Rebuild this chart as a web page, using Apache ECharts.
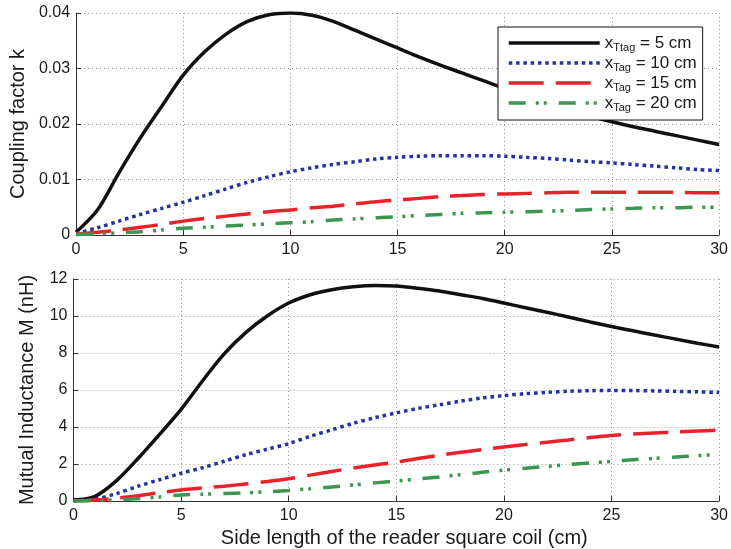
<!DOCTYPE html>
<html>
<head>
<meta charset="utf-8">
<script src="https://cdn.jsdelivr.net/npm/echarts@6/dist/echarts.min.js"></script>
<style>
  html, body { margin: 0; padding: 0; background: #fff; }
  #chart { width: 731px; height: 549px; }
</style>
</head>
<body>
<div id="chart"></div>
<script>
// side length of the reader square coil (cm)
const sideLength = [0, 1, 2, 3, 4, 5, 6, 7, 8, 9, 10, 11, 12, 13, 14, 15, 16, 17, 18, 19, 20, 21, 22, 23, 24, 25, 26, 27, 28, 29, 30];

const seriesNames = ['x5', 'x10', 'x15', 'x20'];
const legendLabels = {
    x5: { sub: 'Ttag', rest: ' = 5 cm' },
    x10: { sub: 'Tag', rest: ' = 10 cm' },
    x15: { sub: 'Tag', rest: ' = 15 cm' },
    x20: { sub: 'Tag', rest: ' = 20 cm' },
};

// coupling factor k
const kTag5 = [0.0005, 0.0045, 0.0112, 0.0175, 0.0232, 0.0288, 0.0330, 0.0362, 0.0385, 0.0397, 0.0400, 0.0396, 0.0385, 0.0369, 0.0353, 0.0337, 0.0321, 0.0306, 0.0292, 0.0278, 0.0264, 0.0250, 0.0237, 0.0225, 0.0214, 0.0204, 0.0195, 0.0187, 0.0179, 0.0171, 0.0163];
const kTag10 = [0.0003, 0.0013, 0.0025, 0.0037, 0.0048, 0.0059, 0.0071, 0.0083, 0.0095, 0.0105, 0.0114, 0.0121, 0.0127, 0.0132, 0.0137, 0.0140, 0.0142, 0.0143, 0.0143, 0.0143, 0.0142, 0.0140, 0.0138, 0.0135, 0.0132, 0.0130, 0.0127, 0.0124, 0.0121, 0.0118, 0.0116];
const kTag15 = [0.0002, 0.0005, 0.0009, 0.0014, 0.0019, 0.0025, 0.0030, 0.0034, 0.0038, 0.0042, 0.0045, 0.0049, 0.0052, 0.0056, 0.0060, 0.0063, 0.0066, 0.0069, 0.0071, 0.0073, 0.0074, 0.0075, 0.0076, 0.0077, 0.0077, 0.0077, 0.0077, 0.0077, 0.0077, 0.0076, 0.0076];
const kTag20 = [0.0001, 0.0002, 0.0004, 0.0006, 0.0009, 0.0012, 0.0014, 0.0016, 0.0018, 0.0020, 0.0022, 0.0024, 0.0027, 0.0029, 0.0031, 0.0033, 0.0035, 0.0037, 0.0039, 0.0040, 0.0041, 0.0042, 0.0043, 0.0044, 0.0046, 0.0047, 0.0048, 0.0049, 0.0049, 0.0050, 0.0050];

// mutual inductance M (nH)
const mTag5 = [0.05, 0.25, 1.1, 2.3, 3.6, 4.95, 6.5, 7.95, 9.1, 10.0, 10.7, 11.15, 11.42, 11.58, 11.65, 11.62, 11.5, 11.35, 11.15, 10.95, 10.7, 10.45, 10.2, 9.95, 9.68, 9.43, 9.2, 8.97, 8.75, 8.53, 8.32];
const mTag10 = [0, 0.1, 0.4, 0.8, 1.15, 1.5, 1.8, 2.15, 2.5, 2.8, 3.1, 3.5, 3.85, 4.2, 4.5, 4.76, 5.0, 5.2, 5.4, 5.57, 5.7, 5.8, 5.87, 5.93, 5.96, 5.98, 5.97, 5.95, 5.93, 5.9, 5.87];
const mTag15 = [0, 0.05, 0.15, 0.28, 0.45, 0.6, 0.7, 0.8, 0.92, 1.05, 1.2, 1.4, 1.6, 1.78, 1.95, 2.1, 2.3, 2.47, 2.63, 2.78, 2.92, 3.05, 3.18, 3.3, 3.43, 3.54, 3.62, 3.68, 3.73, 3.78, 3.83];
const mTag20 = [0, 0.02, 0.06, 0.13, 0.22, 0.33, 0.37, 0.4, 0.44, 0.5, 0.57, 0.66, 0.76, 0.87, 0.98, 1.08, 1.19, 1.3, 1.42, 1.55, 1.67, 1.77, 1.87, 1.97, 2.06, 2.14, 2.23, 2.31, 2.38, 2.45, 2.52];

const font = '"Liberation Sans", Arial, Helvetica, sans-serif';

const styles = {
    x5: { color: '#111111', width: 3.5, type: 'solid' },
    x10: { color: '#23349c', width: 3.5, type: [3.5, 3.8] },
    x15: { color: '#e8222b', width: 3.5, type: [35, 12] },
    x20: { color: '#3b9650', width: 3.5, type: [17, 10, 3, 5, 3, 12] },
};

const zip = (ys) => sideLength.map((x, i) => [x, ys[i]]);

const makeSeries = (name, values, axisIndex) => ({
    name,
    type: 'line',
    xAxisIndex: axisIndex,
    yAxisIndex: axisIndex,
    data: zip(values),
    symbol: 'none',
    smooth: 0.3,
    color: styles[name].color,
    lineStyle: { ...styles[name], cap: 'butt' },
});

const xAxisFor = (gridIndex, name) => ({
    type: 'value',
    gridIndex,
    min: 0,
    max: 30,
    interval: 5,
    name,
    nameLocation: 'middle',
    nameGap: 27,
    nameTextStyle: { color: '#1a1a1a', fontSize: 20, fontFamily: font, padding: [0, 0, 0, 16] },
    axisLine: { lineStyle: { color: '#333', width: 1 } },
    axisTick: { inside: true, length: 5, lineStyle: { color: '#333' } },
    axisLabel: { color: '#1a1a1a', fontSize: 16, fontFamily: font, margin: 7 },
    splitLine: { show: true, lineStyle: { color: '#999', type: [1, 3], width: 1 } },
});

const yAxisFor = (gridIndex, name, max, interval, formatter) => ({
    type: 'value',
    gridIndex,
    min: 0,
    max,
    interval,
    name,
    nameLocation: 'middle',
    nameGap: 36,
    nameTextStyle: { color: '#1a1a1a', fontSize: 20, fontFamily: font },
    axisLine: { show: true, lineStyle: { color: '#333', width: 1 } },
    axisTick: { show: true, inside: true, length: 5, lineStyle: { color: '#333' } },
    axisLabel: { color: '#1a1a1a', fontSize: 16, fontFamily: font, margin: 6, formatter },
    splitLine: { show: true, lineStyle: { color: '#999', type: [1, 3], width: 1 } },
});

const chart = echarts.init(document.getElementById('chart'), null, { renderer: 'canvas' });

chart.setOption({
    backgroundColor: '#fff',
    animation: false,
    grid: [
        { left: 73.5, right: 8, top: 13, height: 222 },
        { left: 73.5, right: 8, top: 279, height: 222.7 },
    ],
    xAxis: [
        xAxisFor(0, ''),
        xAxisFor(1, 'Side length of the reader square coil (cm)'),
    ],
    yAxis: [
        yAxisFor(0, 'Coupling factor k', 0.04, 0.01, (v) => (v === 0 ? '0' : v.toFixed(2))),
        yAxisFor(1, 'Mutual Inductance M (nH)', 12, 2),
    ],
    legend: {
        data: seriesNames,
        left: 498,
        top: 27,
        orient: 'vertical',
        backgroundColor: '#fff',
        borderColor: '#111',
        borderWidth: 1,
        borderRadius: 0,
        padding: [6, 6, 7, 9],
        itemWidth: 91,
        itemHeight: 14,
        itemGap: 0,
        align: 'left',
        itemStyle: { opacity: 0 },
        lineStyle: { width: 3.5 },
        formatter: (name) => `{x|x}{s|${legendLabels[name].sub}}{t|${legendLabels[name].rest}}`,
        textStyle: {
            color: '#1a1a1a',
            fontFamily: font,
            rich: {
                x: { fontSize: 17, fontFamily: font, color: '#1a1a1a', lineHeight: 20 },
                s: { fontSize: 11, fontFamily: font, color: '#1a1a1a', lineHeight: 11, padding: [9, 0, 0, 0] },
                t: { fontSize: 17, fontFamily: font, color: '#1a1a1a', lineHeight: 20 },
            },
        },
    },
    series: [
        makeSeries('x5', kTag5, 0),
        makeSeries('x10', kTag10, 0),
        makeSeries('x15', kTag15, 0),
        makeSeries('x20', kTag20, 0),
        makeSeries('x5', mTag5, 1),
        makeSeries('x10', mTag10, 1),
        makeSeries('x15', mTag15, 1),
        makeSeries('x20', mTag20, 1),
    ],
});
</script>
</body>
</html>
